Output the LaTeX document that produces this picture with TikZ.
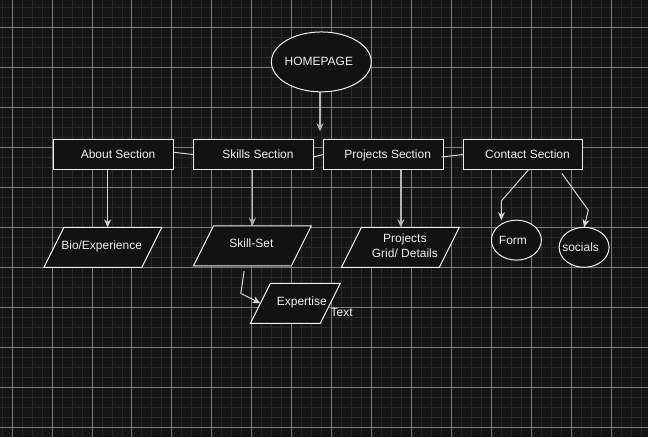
\documentclass[tikz,border=0pt]{standalone}
\usepackage{fontspec}
\setmainfont{Liberation Sans}
\usetikzlibrary{arrows.meta,shapes.geometric,calc}
\definecolor{bg}{HTML}{151515}
\definecolor{minorgrid}{HTML}{2A2A2A}
\definecolor{majorgrid}{HTML}{7C7C7C}
\definecolor{shapefill}{HTML}{121212}
\definecolor{ink}{HTML}{F0F0F0}
\definecolor{wirec}{HTML}{D6D6D6}
\definecolor{softwire}{HTML}{B4B4B4}
\pgfdeclarelayer{gridlayer}
\pgfdeclarelayer{shapelayer}
\pgfsetlayers{gridlayer,shapelayer,main}
\begin{document}
\begin{tikzpicture}[x=1bp,y=-1bp,
  every node/.style={font=\fontsize{12bp}{15bp}\selectfont, text=ink},
  oneline/.style={text height=8.6bp, text depth=0pt},
  box/.style={oneline, draw=ink, fill=shapefill, line width=1bp, minimum width=120bp, minimum height=30bp, inner sep=0pt, outer sep=0pt},
  oval/.style={oneline, ellipse, draw=ink, fill=shapefill, line width=1bp, inner sep=0pt, outer sep=0pt},
  parabox/.style={rectangle, minimum height=40bp, inner sep=0pt, outer sep=0pt},
  paraline/.style={draw=ink, fill=shapefill, line width=1bp, line join=miter},
  wire/.style={draw=wirec, line width=1bp},
  arr/.style={wire, -{Stealth[length=8bp,width=7bp,inset=2.5bp]}},
  softarr/.style={arr, draw=softwire, line width=1.6bp}]
% background and grid
\begin{pgfonlayer}{gridlayer}
\fill[bg] (0,0) rectangle (648,437);
\foreach \x in {1.7,11.7,...,648} \draw[minorgrid, line width=1bp] (\x,0) -- (\x,437);
\foreach \y in {7.3,17.3,...,437} \draw[minorgrid, line width=1bp] (0,\y) -- (648,\y);
\foreach \x in {11.7,51.7,...,648} \draw[majorgrid, line width=1bp] (\x,0) -- (\x,437);
\foreach \y in {27.3,67.3,...,437} \draw[majorgrid, line width=1bp] (0,\y) -- (648,\y);
\end{pgfonlayer}
\useasboundingbox (0,0) rectangle (648,437);
% nodes
\node[oval, minimum width=100bp, minimum height=60bp] (home) at (321.3,61.5) {\makebox[0pt]{\raisebox{1bp}{HOMEPAGE}\hspace*{5bp}}};
\node[box] (about) at (113.3,154.3) {\hspace*{9bp}About Section};
\node[box] (skills) at (253.3,154.3) {\hspace*{9bp}Skills Section};
\node[box] (projects) at (383.3,154.3) {\hspace*{9bp}Projects Section};
\node[box] (contact) at (523.3,154.3) {\hspace*{9bp}Contact Section};
\node[parabox, oneline, minimum width=118bp] (bio) at (102.5,247.3) {\raisebox{2.3bp}{Bio/Experience}\hspace*{2.4bp}};
\node[parabox, oneline, minimum width=118bp] (skillset) at (252.3,245.7) {\raisebox{3bp}{Skill-Set}\hspace*{2bp}};
\node[parabox, minimum width=118bp] (grid) at (400.5,247.2) {\hspace*{9bp}\raisebox{3bp}{\begin{tabular}{@{}c@{}}Projects\\Grid/ Details\end{tabular}}};
\node[parabox, oneline, minimum width=90bp] (expertise) at (295.3,303.3) {\hspace*{13bp}\raisebox{2.6bp}{Expertise}};
\node[oneline, inner sep=0pt] (textlbl) at (341.7,311.7) {Text};
\node[oval, minimum width=50bp, minimum height=40bp] (form) at (516.7,240) {\makebox[0pt]{Form\hspace*{7bp}}};
\node[oval, minimum width=50bp, minimum height=40bp] (socials) at (584.5,247.2) {\makebox[0pt]{socials\hspace*{7bp}}};
% parallelogram outlines behind their texts
\begin{pgfonlayer}{shapelayer}
\foreach \n in {bio,skillset,grid,expertise}
  \path[paraline] (\n.south west) -- ([xshift=20bp]\n.north west) -- (\n.north east) -- ([xshift=-20bp]\n.south east) -- cycle;
\end{pgfonlayer}
% connectors
\coordinate (hometip) at (320,131);
\draw[softarr] (home.south -| hometip) -- (hometip);
\draw[wire] ([yshift=2.3bp]about.east) -- (skills.west);
\draw[wire] ([yshift=-2.4bp]skills.east) -- (projects.west);
\draw[wire] ([shift={(-1.6,2.4)}]projects.east) -- (contact.west);
\draw[arr] ([xshift=-6bp]about.south) -- ([xshift=-6bp]about.south |- bio.north);
\draw[softarr] ([xshift=-1bp]skills.south) -- ([xshift=-1bp]skills.south |- skillset.north);
\draw[softarr] ([xshift=17.7bp]projects.south) -- ([xshift=17.7bp]projects.south |- grid.north);
\coordinate (formbend) at (501.7,200.7);
\draw[arr] ([xshift=5.7bp]contact.south) -- (formbend) -- (formbend |- form.north);
\coordinate (socbend) at (588.7,210);
\draw[arr] ([shift={(39,4)}]contact.south) -- (socbend) -- (socials.north);
\coordinate (expbend) at (240.7,293.3);
\draw[arr] ([shift={(-8.3,5.3)}]skillset.south) -- (expbend) -- ([xshift=10bp]expertise.west);
\end{tikzpicture}
\end{document}
